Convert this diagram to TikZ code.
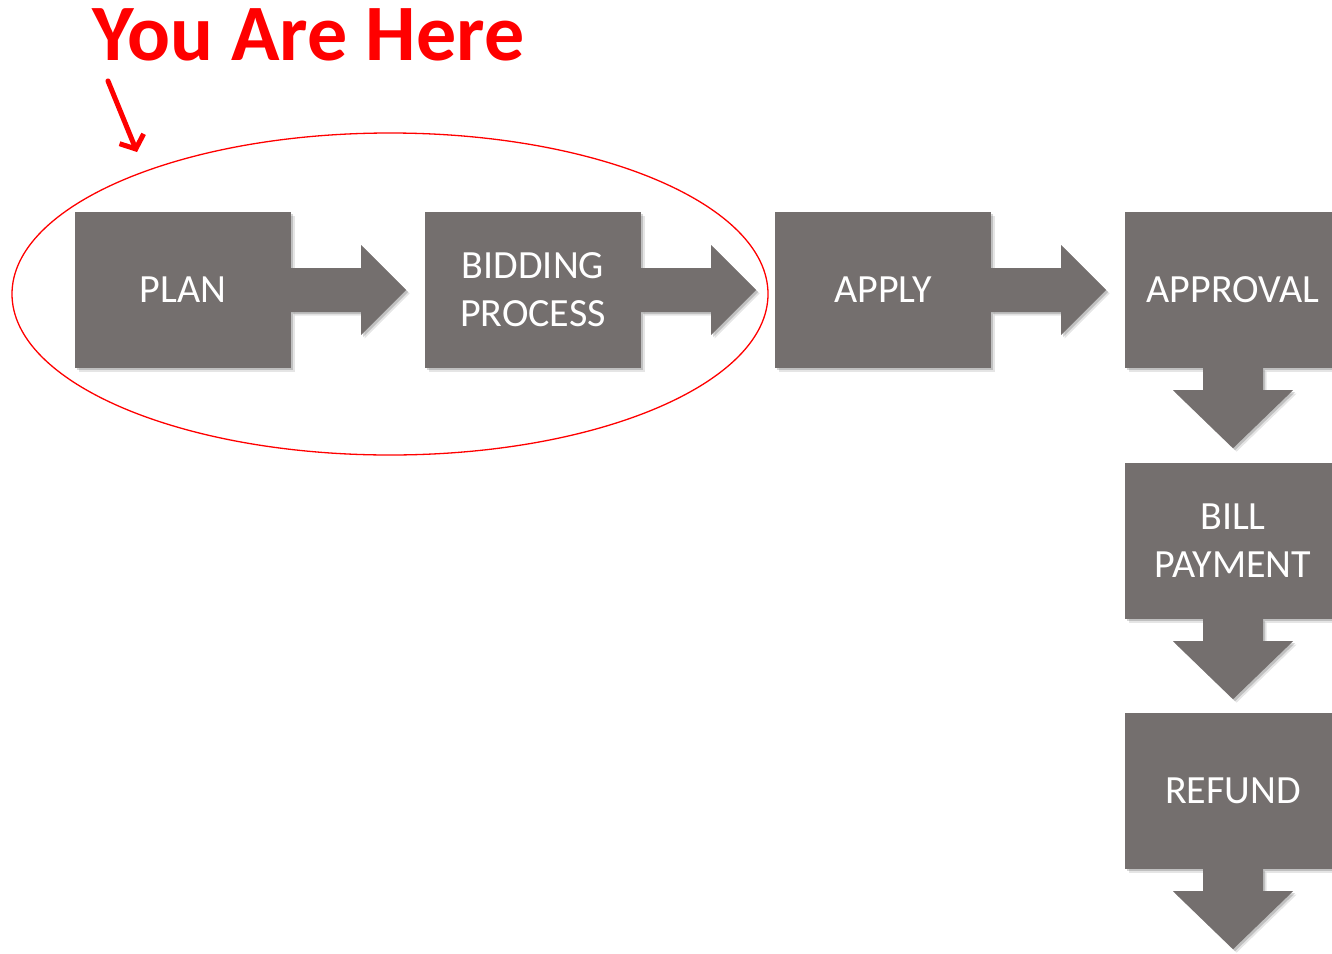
\documentclass[tikz,border=0pt]{standalone}
\usepackage{fontspec}
\setmainfont{Carlito}
\usetikzlibrary{calc,shadows,arrows.meta,shapes.geometric}
\definecolor{boxgrey}{RGB}{116,111,110}
\definecolor{hereRed}{RGB}{255,0,0}
\tikzset{
  gshadow/.style={
     drop shadow={shadow xshift=3.5pt,shadow yshift=-3.5pt,opacity=.10,fill=black},
     drop shadow={shadow xshift=2pt,shadow yshift=-2pt,opacity=.16,fill=black}},
  stepbox/.style={fill=boxgrey,text=white,minimum width=216pt,minimum height=156pt,inner sep=0pt,
     align=center,font=\fontsize{40}{48}\selectfont,gshadow},
  blockarrow/.style={fill=boxgrey,gshadow},
  redarrow/.style={draw=hereRed,line width=5pt,line cap=round,-{Straight Barb[length=11pt,width=26pt,line width=5pt]}},
}
\newcommand\hBlockArrow[1]{\path[blockarrow] ($(#1.east)+(0,-22)$) -- ++(70,0) -- ++(0,-23) -- ++(45,45) -- ++(-45,45) -- ++(0,-23) -- ++(-70,0) -- cycle;}
\newcommand\vBlockArrow[1]{\path[blockarrow] ($(#1.south)+(-30,0)$) -- ++(0,22) -- ++(-30,0) -- ++(60,58) -- ++(60,-58) -- ++(-30,0) -- ++(0,-22) -- cycle;}
\begin{document}
\begin{tikzpicture}[x=1pt,y=-1pt]
\useasboundingbox (0,0) rectangle (1332,953);
\clip (0,0) rectangle (1332,953);
% boxes
\node[stepbox] (plan) at (183,290) {PLAN};
\node[stepbox] (bid) at (533,290) {BIDDING\\PROCESS};
\node[stepbox] (apply) at (883,290) {APPLY};
\node[stepbox] (approval) at (1233,290) {APPROVAL};
\node[stepbox] (bill) at (1233,541) {BILL\\PAYMENT};
\node[stepbox] (refund) at (1233,791) {REFUND};
% block arrows
\hBlockArrow{plan}
\hBlockArrow{bid}
\hBlockArrow{apply}
\vBlockArrow{approval}
\vBlockArrow{bill}
\vBlockArrow{refund}
% highlight
\node[draw=hereRed,line width=1.3pt,ellipse,minimum width=756pt,minimum height=322pt,inner sep=0pt] (here) at (390,294) {};
\node[anchor=base west,inner sep=0pt,text=hereRed,font=\fontsize{80}{90}\selectfont\bfseries] (youtext) at (92,60) {You Are Here};
\coordinate (ys) at (108,81);
\coordinate (yt) at (137,152);
\draw[redarrow] (ys) -- (yt);
\end{tikzpicture}
\end{document}
